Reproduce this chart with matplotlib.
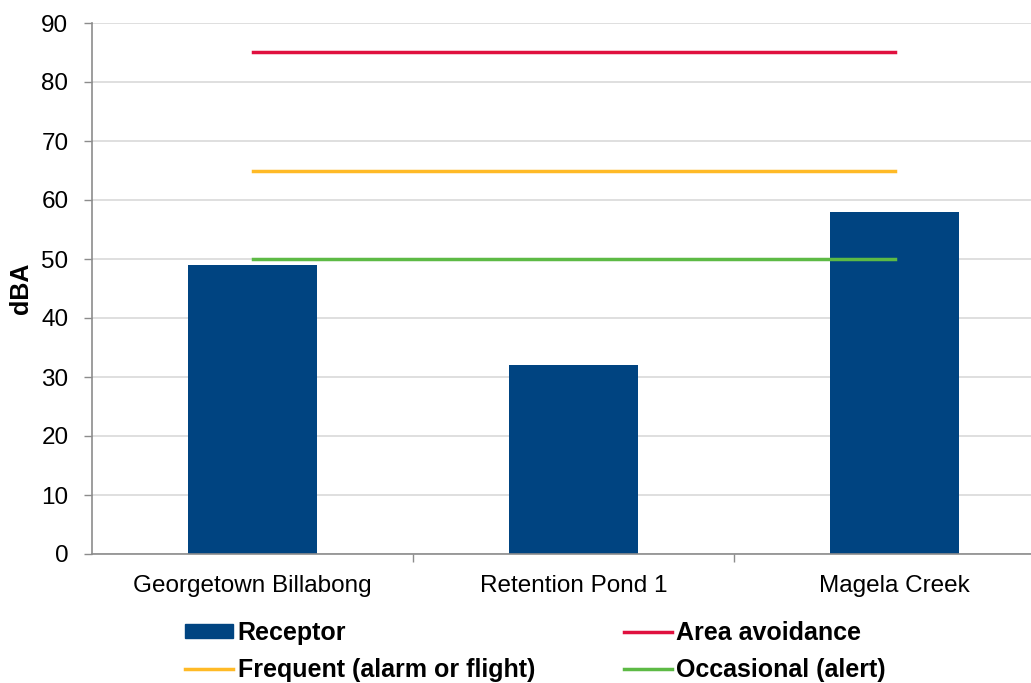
import matplotlib
matplotlib.use("Agg")
import matplotlib.pyplot as plt
from matplotlib.patches import Patch
from matplotlib.lines import Line2D

plt.rcParams['font.family'] = ['Liberation Sans', 'DejaVu Sans']

# Receptor noise levels and response thresholds (dBA)
sites = ["Georgetown Billabong", "Retention Pond 1", "Magela Creek"]
receptor = [49, 32, 58]
area_avoidance = [85, 85, 85]
frequent = [65, 65, 65]
occasional = [50, 50, 50]

yticks = [0, 10, 20, 30, 40, 50, 60, 70, 80, 90]

BLUE = "#004481"
RED = "#E0103F"
ORANGE = "#FFBA26"
GREEN = "#5DBA45"
GRID = "#D9D9D9"
SPINE = "#8C8C8C"

fig = plt.figure(figsize=(10.31, 6.83), dpi=100)
ax = fig.add_axes([92 / 1031, 1 - 554 / 683, (1055 - 92) / 1031, (554 - 23) / 683])

x = list(range(len(sites)))
ax.bar(x, receptor, width=0.4, color=BLUE, zorder=2)
ax.plot(x, area_avoidance, color=RED, lw=2.5, zorder=3)
ax.plot(x, frequent, color=ORANGE, lw=2.5, zorder=3)
ax.plot(x, occasional, color=GREEN, lw=2.5, zorder=3)

ax.set_xlim(-0.5, 2.5)
ax.set_ylim(0, 90)
ax.set_yticks(yticks)
ax.yaxis.grid(True, color=GRID, lw=1.2, zorder=0)
ax.set_axisbelow(True)

ax.set_xticks(x)
ax.set_xticklabels(sites, fontsize=17.5)
ax.set_xticks([0.5, 1.5], minor=True)
ax.tick_params(axis='x', which='major', length=0, pad=15)
ax.tick_params(axis='x', which='minor', length=6, width=1, color=SPINE, direction='out')
ax.tick_params(axis='y', length=6, width=1, color=SPINE, labelsize=17.5, pad=11)

for side in ("top", "right"):
    ax.spines[side].set_visible(False)
for side in ("left", "bottom"):
    ax.spines[side].set_color(SPINE)
    ax.spines[side].set_linewidth(1.2)

ax.set_ylabel("dBA", fontsize=18, fontweight='bold', labelpad=6)

leg_kw = dict(frameon=False, prop={'weight': 'bold', 'size': 18},
              handlelength=1.9, handleheight=0.5, handletextpad=0.2,
              borderpad=0, borderaxespad=0, labelspacing=0.5, loc='upper left')
left_handles = [Patch(facecolor=BLUE, edgecolor=BLUE),
                Line2D([], [], color=ORANGE, lw=2.5)]
right_handles = [Line2D([], [], color=RED, lw=2.5),
                 Line2D([], [], color=GREEN, lw=2.5)]
fig.legend(left_handles, ["Receptor", "Frequent (alarm or flight)"],
           bbox_to_anchor=(185 / 1031, 1 - 621 / 683), **leg_kw)
fig.legend(right_handles, ["Area avoidance", "Occasional (alert)"],
           bbox_to_anchor=(624 / 1031, 1 - 621 / 683), **leg_kw)

fig.savefig("out.png", dpi=100)
